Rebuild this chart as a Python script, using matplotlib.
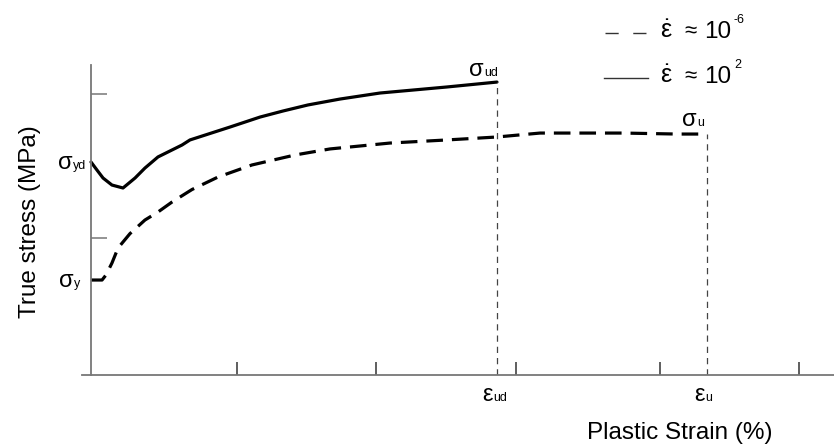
import numpy as np
import matplotlib
matplotlib.use('Agg')
import matplotlib.pyplot as plt
from matplotlib import transforms

plt.rcParams.update({
    'font.family': ['Liberation Sans', 'DejaVu Sans'],
    'mathtext.fontset': 'custom',
    'mathtext.rm': 'Liberation Sans',
    'mathtext.it': 'Liberation Sans',
    'mathtext.bf': 'Liberation Sans:bold',
})

# ── data (plastic strain %, true stress MPa) ────────────────────────────────
strain_dyn = [0, 0.042, 0.085, 0.148, 0.226, 0.311, 0.381, 0.473, 0.643,
              0.699, 0.982, 1.194, 1.356, 1.532, 1.758, 2.041, 2.514, 2.867]
stress_dyn = [151.6, 145.9, 140.2, 135.2, 133.1, 140.2, 147.3, 155.2, 163.7,
              167.3, 176.5, 183.6, 187.9, 192.2, 196.4, 200.7, 205.0, 208.5]

strain_qs = [0, 0.078, 0.106, 0.148, 0.191, 0.275, 0.381, 0.473, 0.572,
             0.713, 0.897, 1.137, 1.441, 1.688, 2.112, 2.514, 2.867, 3.171,
             3.757, 4.138, 4.350]
stress_qs = [67.6, 67.6, 71.2, 79.7, 90.4, 100.6, 110.3, 116.0, 123.1,
             132.0, 140.9, 149.5, 156.6, 160.9, 165.1, 167.3, 169.4, 172.2,
             172.2, 171.5, 171.5]

xticks = [1.03, 2.01, 3.0, 4.02, 5.0]
yticks = [97.5, 200]

# ── figure ──────────────────────────────────────────────────────────────────
fig = plt.figure(figsize=(8.34, 4.48), dpi=100)
ax = fig.add_axes([82/834, 73/448, 752/834, 310/448])

ax.plot(strain_dyn, stress_dyn, color='black', lw=2.3,
        solid_capstyle='round', solid_joinstyle='round')
ax.plot(strain_qs, stress_qs, color='black', lw=2.3, dashes=(5.2, 2.8),
        dash_joinstyle='round')

# failure markers
for xs, ys in [(strain_dyn, stress_dyn), (strain_qs, stress_qs)]:
    ax.plot([xs[-1], xs[-1]], [0, ys[-1]], color='#444444', lw=0.9,
            dashes=(5, 4))

ax.set_xlim(-9/141.6, 743/141.6)
ax.set_ylim(0, 310/1.405)
ax.spines['left'].set_position(('data', 0))
ax.spines['top'].set_visible(False)
ax.spines['right'].set_visible(False)
for s in ('left', 'bottom'):
    ax.spines[s].set_color('#777777')
    ax.spines[s].set_linewidth(1.3)

ax.set_xticks(xticks)
ax.set_yticks(yticks)
ax.set_xticklabels([])
ax.set_yticklabels([])
ax.tick_params(axis='x', direction='in', length=9.5, width=1.1, color='#333333')
ax.tick_params(axis='y', direction='in', length=11.5, width=1.1, color='#777777')


def sub_label(x, y, main, sub, dx, dy, size=17, subsize=9):
    tr = transforms.offset_copy(ax.transData, fig=fig, x=dx, y=dy, units='dots')
    ax.text(x, y, main, transform=tr, ha='right', va='baseline', fontsize=size,
            clip_on=False)
    ax.text(x, y, sub, transform=tr, ha='left', va='baseline', fontsize=subsize,
            clip_on=False)


sub_label(strain_dyn[0], stress_dyn[0], 'σ', 'yd', -18, -7)
sub_label(strain_qs[0], stress_qs[0], 'σ', 'y', -17, -7)
sub_label(strain_dyn[-1], stress_dyn[-1], 'σ', 'ud', -13, 6)
sub_label(strain_qs[-1], stress_qs[-1], 'σ', 'u', -10, 8)
sub_label(strain_dyn[-1], 0, 'ε', 'ud', -4, -26)
sub_label(strain_qs[-1], 0, 'ε', 'u', -2, -26)

fig.text(680/834, 1 - 433/448, 'Plastic Strain (%)', ha='center', va='center',
         fontsize=17.5)
fig.text(30/834, 1 - 222/448, 'True stress (MPa)', ha='center', va='center',
         rotation=90, fontsize=17.5)

# legend drawn by hand
fig.add_artist(plt.Line2D([605/834, 648/834], [1 - 33/448, 1 - 33/448],
                          color='#333333', lw=1.0, dashes=(9.5, 10.5)))
fig.add_artist(plt.Line2D([604/834, 648/834], [1 - 78/448, 1 - 78/448],
                          color='#333333', lw=1.0))
for base, sup in [(38, '-6'), (83, '2')]:
    yb = 1 - base / 448
    fig.text(660/834, yb, r'$\dot{\varepsilon}$', ha='left', va='baseline',
             fontsize=18)
    fig.text(684/834, yb, '≈', ha='left', va='baseline', fontsize=16)
    fig.text(704/834, yb, '10', ha='left', va='baseline', fontsize=17.5)
    fig.text(734/834, yb + 15/448, sup, ha='left', va='baseline', fontsize=9)

fig.savefig('out.png', dpi=100, facecolor='white')
